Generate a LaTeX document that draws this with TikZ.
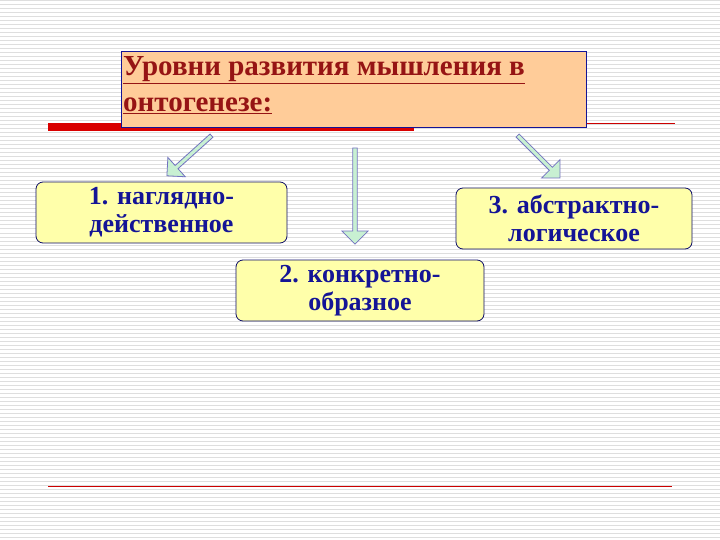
\documentclass[tikz,border=0pt]{standalone}
\usepackage{fontspec}
\setmainfont{Liberation Serif}
\usetikzlibrary{shapes.arrows}
\definecolor{boxyel}{RGB}{255,255,170}
\definecolor{boxblue}{RGB}{20,20,150}
\definecolor{titfill}{RGB}{255,204,153}
\definecolor{darkred}{RGB}{150,20,20}
\definecolor{arrfill}{RGB}{200,240,210}
\definecolor{stripe}{RGB}{222,222,222}
\tikzset{
  lvl/.style={draw=boxblue!70!black, fill=boxyel, rounded corners=7pt, line width=0.8pt,
    text=boxblue, font=\fontsize{26}{28}\selectfont\bfseries, align=center, inner sep=0pt},
  barrow/.style={single arrow, draw=boxblue!60, fill=arrfill, line width=0.8pt,
    minimum height=#1, minimum width=26pt, single arrow head extend=7pt, inner sep=1pt}
}
\begin{document}
\begin{tikzpicture}[x=1pt,y=-1pt]
\useasboundingbox (0,0) rectangle (720,540);
\fill[white] (0,0) rectangle (720,540);
\foreach \i in {0,...,134} { \draw[stripe, line width=1pt] (0,\i*4+1) -- (720,\i*4+1); }
\node[lvl, minimum width=251pt, minimum height=61pt] (b1) at (161.5,212.5) {1. наглядно-\\действенное};
\node[lvl, minimum width=248pt, minimum height=61pt] (b2) at (360,290.5) {2. конкретно-\\образное};
\node[lvl, minimum width=236pt, minimum height=61pt] (b3) at (574,218.5) {3. абстрактно-\\логическое};
\fill[red!85!black] (48,123) rectangle (414,131);
\draw[red!80!black, line width=0.8pt] (586,123) -- (675,123);
\node[draw=boxblue, fill=titfill, line width=0.8pt, minimum width=465pt, minimum height=76pt,
  anchor=north west, inner sep=0pt] (t) at (121,51) {};
\node[anchor=north west, text=darkred, font=\fontsize{29}{36}\selectfont\bfseries, align=left, inner sep=0pt] (tt) at (123,56)
  {\underline{Уровни развития мышления в}\\\underline{онтогенезе:}};
\draw[red!80!black, line width=0.8pt] (48,486) -- (672,486);
\node[barrow=60pt, rotate=-138] (a1) at (190,155) {};
\node[barrow=96pt, rotate=-90] (a2) at (355,195) {};
\node[barrow=60pt, rotate=-45] (a3) at (538,156) {};
\end{tikzpicture}
\end{document}
